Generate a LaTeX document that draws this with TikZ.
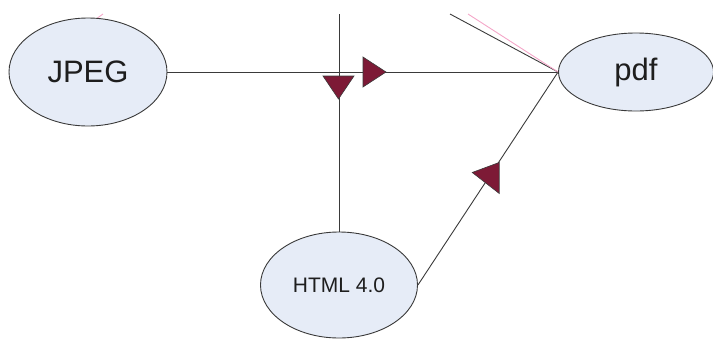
\documentclass[tikz,border=0pt]{standalone}
\usepackage{fontspec}
\setmainfont{Liberation Sans}
\usetikzlibrary{shapes.geometric,calc}
\definecolor{nodefill}{HTML}{E6ECF7}
\definecolor{edgegray}{HTML}{3A3A3A}
\definecolor{tipred}{HTML}{7D1A36}
\definecolor{pinkline}{HTML}{F4A6C8}
\definecolor{textgray}{HTML}{1E1E1E}
\pgfdeclarelayer{background}
\pgfsetlayers{background,main}
\tikzset{
  fmt/.style={ellipse, draw=edgegray, line width=0.9pt, fill=nodefill, inner sep=0pt, text=textgray},
  conn/.style={draw=edgegray, line width=0.9pt},
  pinkconn/.style={draw=pinkline, line width=0.9pt},
  tipmark/.style={fill=tipred, draw=edgegray, line width=0.6pt, line join=miter}
}
\begin{document}
\begin{tikzpicture}[x=1pt,y=-1pt]
\useasboundingbox (0,0) rectangle (713,338);
\clip (0,0) rectangle (713,338);
% nodes
\node[fmt, minimum width=158pt, minimum height=108pt, font=\fontsize{31}{31}\selectfont] (jpeg) at (88,72) {JPEG};
\node[fmt, minimum width=155pt, minimum height=78pt, font=\fontsize{31}{31}\selectfont] (pdf) at (636,72) {pdf};
\node[fmt, minimum width=157pt, minimum height=106pt, font=\fontsize{21}{21}\selectfont] (html) at (339,285) {HTML 4.0};
% free ends at top
\coordinate (topv) at (339,14);
\coordinate (topd) at (450,14);
\coordinate (topp) at (468,14);
\coordinate (topj) at (103,14);
% connectors (behind nodes)
\begin{pgfonlayer}{background}
\draw[conn] (jpeg.center) -- (pdf.center);
\draw[conn] (topv) -- (html.center);
\draw[conn] (html.east) -- (pdf.west);
\draw[conn] (topd) -- (pdf.west);
\draw[pinkconn] (topp) -- (pdf.west);
\draw[pinkconn] (topj) -- (jpeg.80);
\end{pgfonlayer}
% triangles
\coordinate (th) at (363,72);
\draw[tipmark] (th) ++(0,-15) -- ++(23,15) -- ++(-23,15) -- cycle;
\coordinate (tv) at (338.5,76);
\draw[tipmark] (tv) ++(-15.5,0) -- ++(31,0) -- ++(-15.5,23) -- cycle;
\coordinate (td) at ($(html.east)!0.58!(pdf.west)$);
\draw[tipmark] (td) ++(0,1) -- ++(0,31) -- ++(-27,-21) -- cycle;
\end{tikzpicture}
\end{document}
